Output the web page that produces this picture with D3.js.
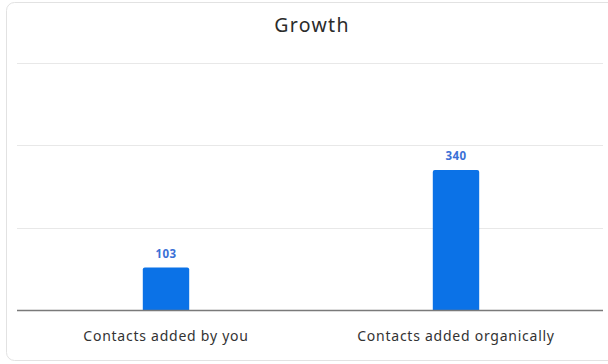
<!DOCTYPE html>
<html>
<head>
<meta charset="utf-8">
<script src="https://cdn.jsdelivr.net/npm/d3@7"></script>
<style>
  html, body { margin: 0; padding: 0; background: #fff; }
  svg { display: block; font-family: "Noto Sans", "Lato", sans-serif; }
</style>
</head>
<body>
<svg id="chart" width="608" height="364"></svg>
<script>
// Growth data
const categories = ["Contacts added by you", "Contacts added organically"];
const values = [103, 340];
const yTicks = [0, 200, 400, 600];
const title = "Growth";

const W = 608, H = 364;
const margin = { top: 63, right: 5, bottom: 54, left: 17 };
const svg = d3.select("#chart");

// card
svg.append("rect")
  .attr("x", 6.5).attr("y", 2.5)
  .attr("width", W + 10).attr("height", H - 6)
  .attr("rx", 8)
  .attr("fill", "#fff")
  .attr("stroke", "#e2e2e2");

svg.append("text")
  .attr("x", 312).attr("y", 32)
  .attr("text-anchor", "middle")
  .attr("font-size", 19.5)
  .attr("letter-spacing", 1.3)
  .attr("fill", "#2b2b2b")
  .text(title);

const x = d3.scaleBand()
  .domain(categories)
  .range([21, 601])
  .paddingInner(0.84)
  .paddingOuter(0.42);

const y = d3.scaleLinear()
  .domain([0, 600])
  .range([H - margin.bottom, margin.top]);

// horizontal grid
svg.append("g")
  .selectAll("line")
  .data(yTicks.slice(1))
  .join("line")
  .attr("x1", margin.left).attr("x2", W - margin.right)
  .attr("y1", d => Math.round(y(d)) + 0.5)
  .attr("y2", d => Math.round(y(d)) + 0.5)
  .attr("stroke", "#e8e8e8")
  .attr("stroke-width", 1);

// bars with rounded tops
const r = 2;
svg.append("g")
  .selectAll("path")
  .data(values)
  .join("path")
  .attr("fill", "#0b72e7")
  .attr("d", (d, i) => {
    const x0 = x(categories[i]), w = x.bandwidth();
    const y0 = y(d), yb = y(0);
    return `M${x0},${yb}V${y0 + r}Q${x0},${y0} ${x0 + r},${y0}H${x0 + w - r}Q${x0 + w},${y0} ${x0 + w},${y0 + r}V${yb}Z`;
  });

// value labels
svg.append("g")
  .selectAll("text")
  .data(values)
  .join("text")
  .attr("x", (d, i) => x(categories[i]) + x.bandwidth() / 2)
  .attr("y", d => y(d) - 10)
  .attr("text-anchor", "middle")
  .attr("font-size", 11.5)
  .attr("font-weight", "bold")
  .attr("letter-spacing", 0.4)
  .attr("fill", "#3a70d6")
  .text(d => d);

// category axis
const xAxis = svg.append("g")
  .attr("transform", `translate(0,${y(0)})`)
  .call(d3.axisBottom(x).tickSize(0).tickPadding(21));
xAxis.select(".domain").remove();
xAxis.selectAll("text")
  .attr("font-size", 14)
  .attr("letter-spacing", 0.75)
  .attr("font-family", "'Noto Sans', Lato, sans-serif")
  .attr("fill", "#333");
svg.append("line")
  .attr("x1", margin.left).attr("x2", W - margin.right)
  .attr("y1", y(0) + 0.5).attr("y2", y(0) + 0.5)
  .attr("stroke", "#7a7a7a")
  .attr("stroke-width", 1.5);
</script>
</body>
</html>
